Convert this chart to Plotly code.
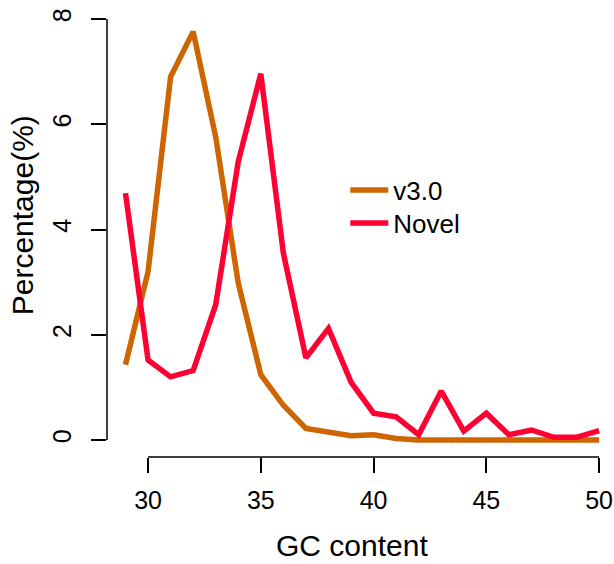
import plotly.graph_objects as go

gc = list(range(29, 51))
v30 = [1.43, 3.2, 6.9, 7.76, 5.76, 2.98, 1.24, 0.66, 0.22, 0.15, 0.08, 0.1, 0.03,
       0.0, 0.0, 0.0, 0.02, 0.0, 0.0, 0.0, 0.0, 0.0]
novel = [4.69, 1.52, 1.2, 1.32, 2.57, 5.29, 6.96, 3.55, 1.56, 2.12, 1.1, 0.51, 0.44,
         0.1, 0.93, 0.17, 0.51, 0.1, 0.19, 0.05, 0.05, 0.18]
series_names = ["v3.0", "Novel"]
colors = ["#CD6600", "#FF0033"]
x_ticks = [30, 35, 40, 45, 50]
y_ticks = [0, 2, 4, 6, 8]

FONT = "Liberation Sans, Arial, sans-serif"

fig = go.Figure()
for i, (name, vals, col) in enumerate(zip(series_names, [v30, novel], colors)):
    fig.add_trace(go.Scatter(x=gc, y=vals, mode="lines", name=name,
                             legend="legend" if i == 0 else "legend2",
                             line=dict(color=col, width=5.5)))

leg_common = dict(xanchor="left", yanchor="middle", bgcolor="rgba(0,0,0,0)",
                  font=dict(size=26, family=FONT), itemwidth=38)

fig.update_layout(
    width=614, height=564,
    margin=dict(l=107, r=0, t=2, b=107),
    paper_bgcolor="white", plot_bgcolor="white",
    font=dict(family=FONT, color="black"),
    showlegend=True,
    legend=dict(x=0.47, y=0.5868, **leg_common),
    legend2=dict(x=0.47, y=0.5143, **leg_common),
    xaxis=dict(range=[28.18, 50.66], showgrid=False, zeroline=False, showline=False,
               tickmode="array", tickvals=x_ticks, ticks="outside", ticklen=15,
               tickwidth=1.5, tickcolor="black", tickfont=dict(size=25),
               ticklabelstandoff=6),
    yaxis=dict(range=[-0.323, 8.323], showgrid=False, zeroline=False, showline=False,
               tickmode="array", tickvals=y_ticks, ticks="outside", ticklen=15,
               tickwidth=1.5, tickcolor="black", tickfont=dict(size=25),
               tickangle=-90, ticklabelstandoff=10),
    shapes=[
        dict(type="line", xref="paper", yref="y", x0=0, x1=0, y0=min(y_ticks), y1=max(y_ticks),
             line=dict(color="black", width=1.5)),
        dict(type="line", xref="x", yref="paper", x0=min(x_ticks), x1=max(x_ticks), y0=0, y1=0,
             line=dict(color="black", width=1.5)),
    ],
    annotations=[
        dict(text="GC content", xref="paper", yref="paper", x=0.483, y=-0.2352,
             showarrow=False, font=dict(size=30), xanchor="center", yanchor="bottom"),
        dict(text="Percentage(%)", xref="paper", yref="paper", x=-0.165, y=0.532,
             showarrow=False, font=dict(size=30), textangle=-90,
             xanchor="center", yanchor="middle"),
    ],
)

fig.write_html("out.html", config={"displayModeBar": False},
               post_script="document.body.style.margin='0';document.body.style.overflow='hidden';")
